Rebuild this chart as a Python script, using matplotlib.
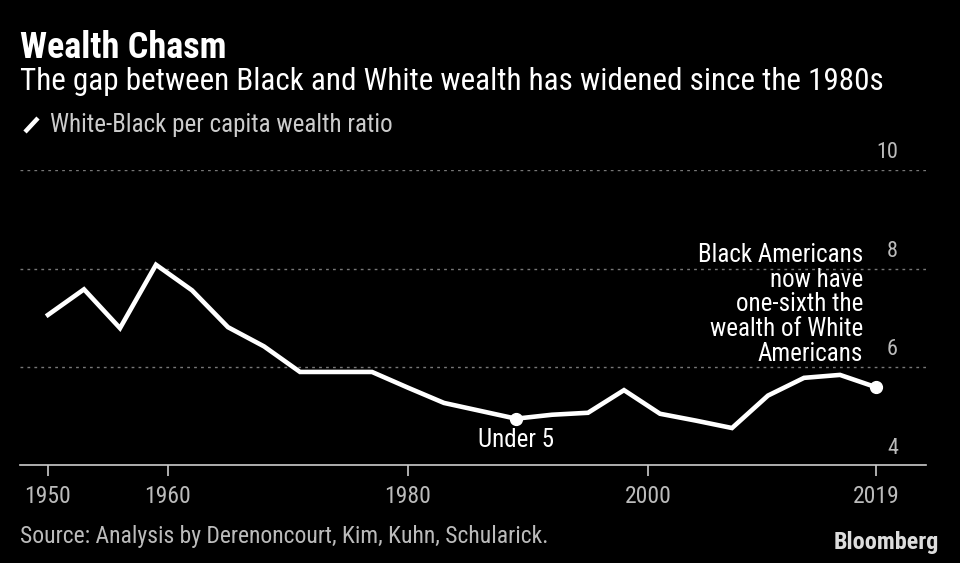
import matplotlib.pyplot as plt
from matplotlib import font_manager

# White-Black per capita wealth ratio
years = [1950, 1953, 1956, 1959, 1962, 1965, 1968, 1971, 1974, 1977, 1980, 1983,
         1986, 1989, 1992, 1995, 1998, 2001, 2004, 2007, 2010, 2013, 2016, 2019]
ratio = [7.06, 7.58, 6.79, 8.08, 7.56, 6.81, 6.42, 5.90, 5.90, 5.90, 5.58, 5.27,
         5.11, 4.95, 5.03, 5.07, 5.53, 5.05, 4.91, 4.76, 5.42, 5.78, 5.84, 5.59]
xticks = [1950, 1960, 1980, 2000, 2019]
yticks = [4, 6, 8, 10]

# a narrow face would be closer to the original, use one if it is there
names = {f.name for f in font_manager.fontManager.ttflist}
fam = 'DejaVu Sans'
for cand in ['Roboto Condensed', 'Liberation Sans Narrow', 'DejaVu Sans Condensed']:
    if cand in names:
        fam = cand
        break
plt.rcParams['font.family'] = [fam, 'DejaVu Sans']

W, H = 960, 563
fig = plt.figure(figsize=(W / 100, H / 100), dpi=100, facecolor='black')

def px(x, y):
    return x / W, 1 - y / H

# axes: 1950 at x=48, 12 px per year; value 4 at y=465.4, value 10 at y=170.3
x0, x1 = 20, 926
y_bot, y_top = 465.4, 170.3
ax = fig.add_axes([x0 / W, 1 - y_bot / H, (x1 - x0) / W, (y_bot - y_top) / H])
ax.set_facecolor('black')
ax.set_xlim(1950 - 28 / 12, 1950 + (x1 - 48) / 12)
ax.set_ylim(4, 10)

for v in yticks[1:]:
    ax.axhline(v, color='#777777', lw=1, ls=(0, (2, 3)), zorder=1)
for v in yticks:
    ax.text(1950 + (898 - 48) / 12, v + 0.14, str(v), color='#bbbbbb', fontsize=16,
            ha='right', va='bottom')

ax.plot(years, ratio, color='white', lw=3.3, solid_joinstyle='miter', zorder=3, clip_on=False)
ax.plot([1989, 2019], [ratio[years.index(1989)], ratio[-1]], 'o', color='white', ms=8.5,
        zorder=4, clip_on=False)

for s in ['top', 'right', 'left']:
    ax.spines[s].set_visible(False)
ax.spines['bottom'].set_color('#cccccc')
ax.spines['bottom'].set_linewidth(1.2)
ax.set_yticks([])
ax.set_xticks(xticks)
ax.set_xticklabels([str(t) for t in xticks])
ax.tick_params(axis='x', colors='#cccccc', length=8, width=1.2, pad=6, labelsize=17,
               labelcolor='#bbbbbb')

ax.text(1989, 4.52, 'Under 5', color='white', fontsize=18, ha='center', va='center')
note = 'Black Americans\nnow have\none-sixth the\nwealth of White\nAmericans'
ax.text(1950 + (863 - 48) / 12, 8.53, note, color='white', fontsize=18, ha='right',
        va='top', linespacing=1.05)

fig.text(*px(20, 48), 'Wealth Chasm', color='white', fontsize=26, fontweight='bold',
         va='center', ha='left')
fig.text(*px(20, 81), 'The gap between Black and White wealth has widened since the 1980s',
         color='white', fontsize=22.4, va='center', ha='left')
fig.lines.append(plt.Line2D([25 / W, 38 / W], [1 - 132 / H, 1 - 118 / H], color='white',
                            lw=3.2, transform=fig.transFigure, solid_capstyle='butt'))
fig.text(*px(50, 125), 'White-Black per capita wealth ratio', color='#cccccc', fontsize=18,
         va='center', ha='left')
fig.text(*px(20, 536), 'Source: Analysis by Derenoncourt, Kim, Kuhn, Schularick.',
         color='#bbbbbb', fontsize=17, va='center', ha='left')
fig.text(*px(939, 543), 'Bloomberg', color='#dddddd', fontsize=17.4, fontweight='bold',
         va='center', ha='right')

fig.savefig('out.png', dpi=100, facecolor='black')
